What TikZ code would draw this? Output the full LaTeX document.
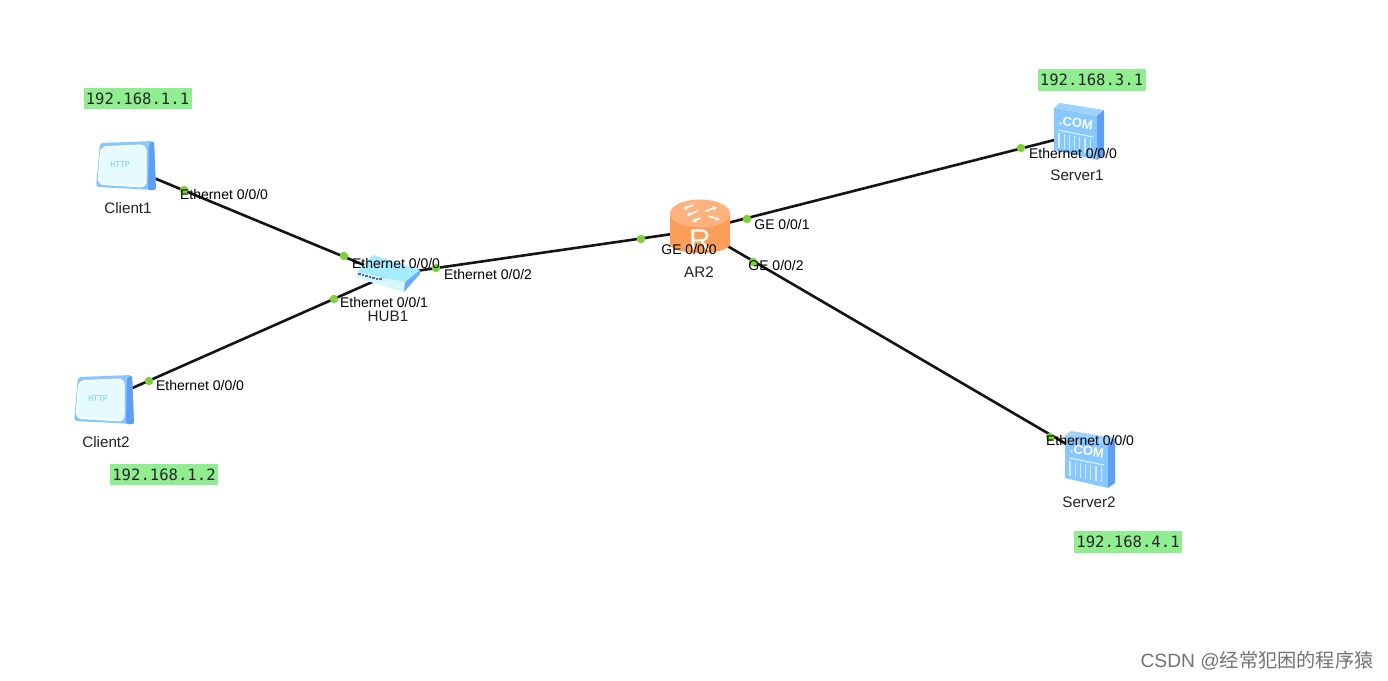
\documentclass[tikz,border=0pt]{standalone}
\usepackage{fontspec}
\usetikzlibrary{arrows.meta}
\setmainfont{Liberation Sans}
\setmonofont{DejaVu Sans Mono}
\newfontfamily\cjkfont{Noto Sans CJK SC}
\definecolor{ipgreen}{HTML}{90EE90}
\definecolor{portgreen}{HTML}{7FD13B}
\definecolor{linkblack}{HTML}{141414}
\definecolor{iconlight}{HTML}{E6FBFF}
\definecolor{iconblue}{HTML}{86C8FF}
\definecolor{icondeep}{HTML}{5F9EF5}
\definecolor{hubtop}{HTML}{A6EBFF}
\definecolor{hubfront}{HTML}{D5F6FF}
\definecolor{routerside}{HTML}{FB9E5A}
\definecolor{routertop}{HTML}{FFB27E}
\definecolor{labeltext}{HTML}{222222}
\tikzset{
  link/.style={draw=linkblack,line width=2.6pt},
  devanchor/.style={inner sep=0pt,minimum size=2pt},
  portdot/.style={circle,fill=portgreen,inner sep=0pt,minimum size=8.5pt},
  portlabel/.style={font=\fontsize{14}{14}\selectfont,text=black,inner sep=0pt},
  devlabel/.style={font=\fontsize{15.2}{15.2}\selectfont,text=labeltext,inner sep=0pt},
  iplabel/.style={fill=ipgreen,font=\ttfamily\fontsize{15.6}{15.6}\selectfont,text=black!85,minimum width=108pt,minimum height=21.5pt,inner sep=0pt},
  arrowmark/.style={draw=white,line width=1.6pt,line cap=round,-{Latex[length=4pt,width=5pt]}},
}
\newcommand{\clienticon}[3]{%
  \begin{scope}[shift={(#1,#2)}]
    \fill[iconblue,rounded corners=3pt] (-25,-23) -- (29,-25) -- (31,24) -- (-29,21) -- cycle;
    \fill[icondeep,rounded corners=2pt] (24,-22) -- (29,-25) -- (31,24) -- (23,24) -- cycle;
    \fill[iconlight,draw=white,line width=1.4pt,rounded corners=6pt] (-24,-19) -- (21,-21) -- (21,21) -- (-27,18) -- cycle;
    \node[inner sep=0pt,text=cyan!55,font=\ttfamily\fontsize{8}{8}\selectfont] (#3) at (-5,-1) {HTTP};
  \end{scope}}
\newcommand{\servericon}[3]{%
  \begin{scope}[shift={(#1,#2)}]
    \fill[iconblue!80] (1060,103) -- (1104,110) -- (1097,116) -- (1054,108) -- cycle;
    \fill[icondeep] (1097,116) -- (1104,110) -- (1104,155) -- (1097,160) -- cycle;
    \fill[iconblue] (1054,108) -- (1097,116) -- (1097,160) -- (1054,150) -- cycle;
    \draw[white!80!iconblue,line width=1pt] (1058,130) -- (1093,137);
    \foreach \k in {0,...,6}{\draw[white!65!iconblue,line width=1.2pt] ({1059+5.2*\k},{133+\k}) -- ({1059+5.2*\k},{148+\k});}
    \node[inner sep=0pt,text=white,rotate=-9,font=\bfseries\fontsize{13}{13}\selectfont] (#3) at (1076,123) {.COM};
  \end{scope}}
\begin{document}
\begin{tikzpicture}[x=1pt,y=-1pt]
\fill[white] (0,0) rectangle (1388,680);
\useasboundingbox (0,0) rectangle (1388,680);
% device anchors
\node[devanchor] (client1) at (125,166) {};
\node[devanchor] (client2) at (103,401) {};
\node[devanchor] (hub) at (388,275) {};
\node[devanchor] (router) at (700,230) {};
\node[devanchor] (server1) at (1078,134) {};
\coordinate (server2) at (1068,445);
% links
\draw[link] (client1) -- (hub);
\draw[link] (client2) -- (hub);
\draw[link] (hub) -- (router);
\draw[link] (router) -- (server1);
\draw[link] (router) -- (server2);
% clients
\clienticon{125}{166}{httpa}
\clienticon{103}{400}{httpb}
% hub
\fill[icondeep!70!iconblue] (403,282) -- (420,270) -- (420,274) -- (404,292) -- cycle;
\fill[hubfront] (357,272) -- (405,282) -- (404,292) -- (357,278) -- cycle;
\fill[hubtop] (373,255) -- (420,270) -- (405,282) -- (357,272) -- cycle;
\foreach \k in {0,...,6}{\fill[blue!55!black,opacity=.6] ({358+3.5*\k},{273+.9*\k}) rectangle ++(2.6,2);}
% router
\fill[routerside] (670,213) -- (670,244) arc[start angle=180,end angle=0,x radius=30,y radius=9] -- (730,213) -- cycle;
\fill[routertop] (700,213.5) ellipse[x radius=30,y radius=14];
\node[inner sep=0pt,text=white,font=\fontsize{30}{30}\selectfont] (routerR) at (700,240) {R};
\foreach \a/\b/\c/\d in {693/205/683/209, 697/211/686/216, 706/211/717/207, 709/216/720/220, 700/218/692/222}{
  \draw[arrowmark] (\a,\b) -- (\c,\d);}
% servers
\servericon{0}{0}{coma}
\servericon{11}{328}{comb}
% port dots
\node[portdot] (p1) at (184,190) {};
\node[portdot] (p2) at (344,256) {};
\node[portdot] (p3) at (334,299) {};
\node[portdot] (p4) at (149,381) {};
\node[portdot] (p5) at (436,268) {};
\node[portdot] (p6) at (641,239) {};
\node[portdot] (p7) at (747,219) {};
\node[portdot] (p8) at (753,262) {};
\node[portdot] (p9) at (1021,148) {};
\node[portdot] (p10) at (1050,437) {};
% port labels
\node[portlabel] (l1) at (224,194) {Ethernet 0/0/0};
\node[portlabel] (l2) at (396,263) {Ethernet 0/0/0};
\node[portlabel] (l3) at (384,302) {Ethernet 0/0/1};
\node[portlabel] (l4) at (200,385) {Ethernet 0/0/0};
\node[portlabel] (l5) at (488,274) {Ethernet 0/0/2};
\node[portlabel] (l6) at (689,249) {GE 0/0/0};
\node[portlabel] (l7) at (782,224) {GE 0/0/1};
\node[portlabel] (l8) at (776,265) {GE 0/0/2};
\node[portlabel] (l9) at (1073,153) {Ethernet 0/0/0};
\node[portlabel] (l10) at (1090,440) {Ethernet 0/0/0};
% device labels
\node[devlabel] (n1) at (128,208) {Client1};
\node[devlabel] (n2) at (106,442) {Client2};
\node[devlabel] (n3) at (388,316) {HUB1};
\node[devlabel] (n4) at (699,272) {AR2};
\node[devlabel] (n5) at (1077,175) {Server1};
\node[devlabel] (n6) at (1089,502) {Server2};
% addresses
\node[iplabel] (ip1) at (137.5,98.5) {192.168.1.1};
\node[iplabel] (ip2) at (164,474.5) {192.168.1.2};
\node[iplabel] (ip3) at (1091.5,80) {192.168.3.1};
\node[iplabel] (ip4) at (1128,542) {192.168.4.1};
% watermark
\node[inner sep=0pt,text=black!55,font=\fontsize{19.2}{19.2}\selectfont] (wm) at (1257,661) {CSDN @{\cjkfont 经常犯困的程序猿}};
\end{tikzpicture}
\end{document}
